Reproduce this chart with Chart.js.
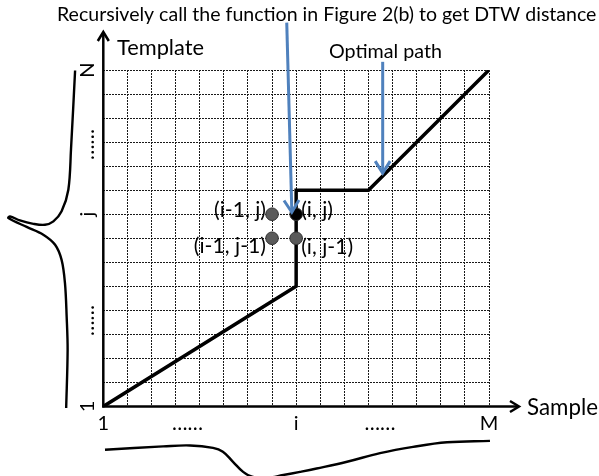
<!DOCTYPE html>
<html>
<head>
<meta charset="utf-8">
<script src="https://cdn.jsdelivr.net/npm/chart.js@4.4.1/dist/chart.umd.min.js"></script>
<style>
html,body{margin:0;padding:0;background:#fff;overflow:hidden}
canvas{display:block}
</style>
</head>
<body>
<canvas id="c" width="599" height="476"></canvas>
<script>
// ---------------- data ----------------
const sampleCount = 16;    // grid columns, 1..M
const templateCount = 14;  // grid rows, 1..N
const pathX = [0, 8, 8, 11, 16];
const pathY = [0, 5, 9, 9, 14];
const cellX = [7, 8, 7, 8];
const cellY = [8, 8, 7, 7];
const cellLabels = ['(i-1, j)', '(i, j)', '(i-1, j-1)', '(i, j-1)'];
const xTickValues = [0, 3.49, 8, 11.48, 16];
const xTickLabels = ['1', '……', 'i', '……', 'M'];
const yTickValues = [0, 3.58, 8, 10.9, 14];
const yTickLabels = ['1', '……', 'j', '……', 'N'];
// sample signal drawn under the x axis
const sampleCurveX = [0.07, 2.48, 3.60, 4.55, 4.96, 5.38, 5.80, 6.17, 6.72, 7.47, 8.16, 8.85, 10.11, 11.48, 12.85, 14.26, 16.04];
const sampleCurveY = [-1.80, -1.66, -1.62, -1.72, -1.88, -2.30, -2.72, -2.92, -2.98, -2.85, -2.72, -2.58, -2.30, -1.94, -1.68, -1.49, -1.43];
// template signal drawn left of the y axis
const templateCurveX = [-1.17, -1.34, -1.45, -1.73, -2.07, -2.42, -2.90, -3.46, -3.87, -3.94, -3.18, -2.49, -2.00, -1.73, -1.59, -1.52, -1.48, -1.54];
const templateCurveY = [13.98, 10.69, 9.02, 8.12, 7.70, 7.56, 7.60, 7.74, 7.91, 7.84, 7.47, 7.15, 6.73, 6.10, 5.13, 3.74, 2.35, -0.06];
const titleText = 'Recursively call the function in Figure 2(b) to get DTW distance';
const xAxisTitle = 'Sample';
const yAxisTitle = 'Template';
const pathLabel = 'Optimal path';

// ---------------- layout / style ----------------
const FONT = 'Lato, "Open Sans", sans-serif';
const layoutText = {
  title:   {left: 57,  right: 597, base: 20.5},
  yTitle:  {left: 117, right: 204, base: 55},
  path:    {left: 329, right: 442, base: 58},
  xTitle:  {left: 527, right: 598, base: 415}
};
const blueArrows = [
  {from: [7.61, 15.97], to: [7.82, 8.08]},
  {from: [11.59, 14.34], to: [11.59, 9.71]}
];
const cellLabelOffsets = [[-6, -4, 'right'], [5, -4, 'left'], [-6, 8, 'right'], [5, 9, 'left']];
const cellFill = ['#5a5a5a', '#000000', '#5a5a5a', '#5a5a5a'];

function pts(xs, ys) { return xs.map((x, i) => ({x, y: ys[i]})); }
function fit(ctx, text, width) {
  ctx.font = '100px ' + FONT;
  return 100 * width / ctx.measureText(text).width;
}
function vArrowHead(ctx, x1, y1, x2, y2, len, half) {
  const a = Math.atan2(y2 - y1, x2 - x1);
  ctx.beginPath();
  ctx.moveTo(x2 - len * Math.cos(a) + half * Math.sin(a), y2 - len * Math.sin(a) - half * Math.cos(a));
  ctx.lineTo(x2, y2);
  ctx.lineTo(x2 - len * Math.cos(a) - half * Math.sin(a), y2 - len * Math.sin(a) + half * Math.cos(a));
  ctx.stroke();
}

const overlay = {
  id: 'overlay',
  beforeDatasetsDraw(chart) {
    const {ctx, scales: {x, y}} = chart;
    const x0 = x.getPixelForValue(0), y0 = y.getPixelForValue(0);
    ctx.save();
    ctx.strokeStyle = '#000';
    ctx.lineWidth = 2.5;
    ctx.lineCap = 'butt';
    ctx.lineJoin = 'miter';
    ctx.beginPath(); ctx.moveTo(x0, y0 + 1); ctx.lineTo(x0, 32); ctx.stroke();
    vArrowHead(ctx, x0, y0, x0, 32, 9, 5.5);
    ctx.beginPath(); ctx.moveTo(x0 - 1, y0); ctx.lineTo(519, y0); ctx.stroke();
    vArrowHead(ctx, x0, y0, 519, y0, 9, 5.5);
    ctx.restore();
  },
  afterDatasetsDraw(chart) {
    const {ctx, scales: {x, y}} = chart;
    ctx.save();
    ctx.strokeStyle = '#4F81BD';
    ctx.lineWidth = 3;
    ctx.lineCap = 'butt';
    blueArrows.forEach(a => {
      const x1 = x.getPixelForValue(a.from[0]), y1 = y.getPixelForValue(a.from[1]);
      const x2 = x.getPixelForValue(a.to[0]), y2 = y.getPixelForValue(a.to[1]);
      ctx.beginPath(); ctx.moveTo(x1, y1); ctx.lineTo(x2, y2 - 1); ctx.stroke();
      vArrowHead(ctx, x1, y1, x2, y2, 12, 7.5);
    });
    ctx.fillStyle = '#000';
    ctx.textBaseline = 'alphabetic';
    ctx.textAlign = 'left';
    const put = (txt, box) => {
      const s = fit(ctx, txt, box.right - box.left);
      ctx.font = s.toFixed(2) + 'px ' + FONT;
      ctx.fillText(txt, box.left, box.base);
    };
    put(titleText, layoutText.title);
    put(yAxisTitle, layoutText.yTitle);
    put(pathLabel, layoutText.path);
    put(xAxisTitle, layoutText.xTitle);

    ctx.textAlign = 'center';
    xTickLabels.forEach((t, i) => {
      const isDots = t.indexOf('…') >= 0;
      ctx.font = (isDots ? fit(ctx, t, 31).toFixed(2) : '20') + 'px ' + FONT;
      ctx.fillText(t, x.getPixelForValue(xTickValues[i]), 429.5);
    });
    yTickLabels.forEach((t, i) => {
      const isDots = t.indexOf('…') >= 0;
      ctx.save();
      ctx.translate(93.5, y.getPixelForValue(yTickValues[i]));
      ctx.rotate(-Math.PI / 2);
      ctx.textAlign = 'center';
      ctx.font = (isDots ? fit(ctx, t, 31).toFixed(2) : '20') + 'px ' + FONT;
      ctx.fillText(t, 0, 0);
      ctx.restore();
    });
    const cs = fit(ctx, cellLabels[3], 52);
    ctx.font = cs.toFixed(2) + 'px ' + FONT;
    ctx.textBaseline = 'middle';
    cellLabels.forEach((t, i) => {
      const o = cellLabelOffsets[i];
      ctx.textAlign = o[2];
      ctx.fillText(t, x.getPixelForValue(cellX[i]) + o[0], y.getPixelForValue(cellY[i]) + o[1]);
    });
    ctx.restore();
  }
};

new Chart(document.getElementById('c').getContext('2d'), {
  type: 'scatter',
  data: {
    datasets: [
      {label: 'cells', data: pts(cellX, cellY), pointRadius: 6.3, pointHoverRadius: 6.3,
       pointBackgroundColor: cellFill, pointBorderColor: '#333', pointBorderWidth: 1, showLine: false, order: 0},
      {label: pathLabel, data: pts(pathX, pathY), showLine: true, borderColor: '#000', borderWidth: 3.5,
       pointRadius: 0, tension: 0, order: 1, borderJoinStyle: 'miter'},
      {label: xAxisTitle, data: pts(sampleCurveX, sampleCurveY), showLine: true, borderColor: '#000', borderWidth: 2.4,
       pointRadius: 0, tension: 0.4, clip: false, order: 2},
      {label: yAxisTitle, data: pts(templateCurveX, templateCurveY), showLine: true, borderColor: '#000', borderWidth: 2.4,
       pointRadius: 0, tension: 0.35, clip: false, order: 3}
    ]
  },
  options: {
    responsive: false,
    animation: false,
    events: [],
    layout: {padding: {left: 103.3, right: 110, top: 70, bottom: 69.5}},
    plugins: {legend: {display: false}, tooltip: {enabled: false}},
    scales: {
      x: {type: 'linear', min: 0, max: sampleCount,
          ticks: {display: false, stepSize: 1},
          grid: {color: '#1a1a1a', lineWidth: 1, drawTicks: false},
          border: {display: false, dash: [2, 1]}},
      y: {type: 'linear', min: 0, max: templateCount,
          ticks: {display: false, stepSize: 1},
          grid: {color: '#1a1a1a', lineWidth: 1, drawTicks: false},
          border: {display: false, dash: [2, 1]}}
    }
  },
  plugins: [overlay]
});
</script>
</body>
</html>
